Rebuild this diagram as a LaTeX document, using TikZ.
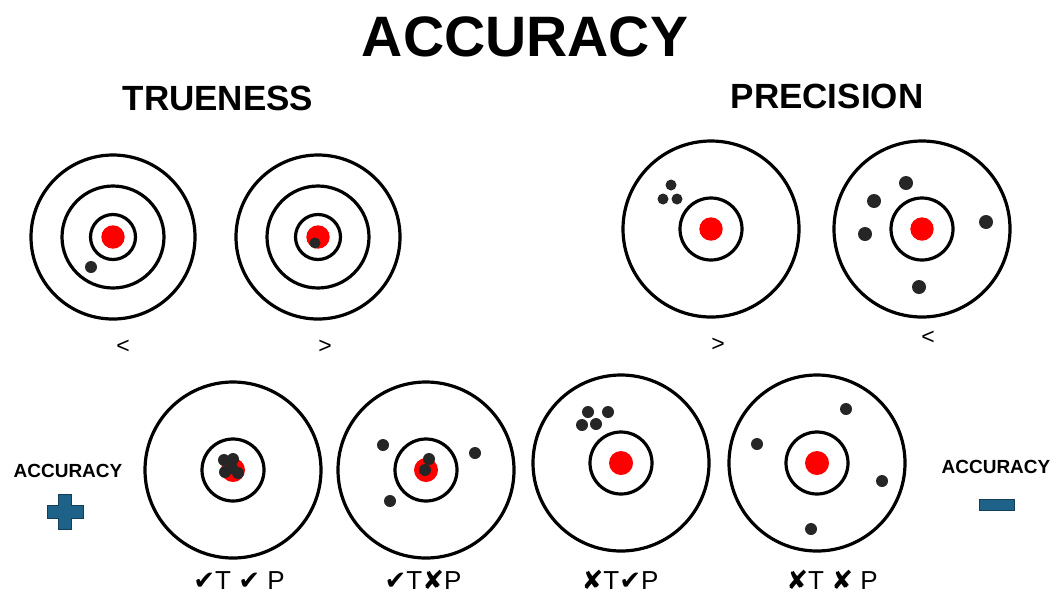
\documentclass[tikz,border=0pt]{standalone}
\usepackage{fontspec}
\setmainfont{Liberation Sans}
\newfontfamily\symfont{DejaVu Sans}
\definecolor{accblue}{RGB}{30,98,138}
\definecolor{accedge}{RGB}{20,62,88}
\newcommand{\accbig}{\fontsize{57}{60}\selectfont\bfseries}
\newcommand{\acchead}{\fontsize{35}{38}\selectfont\bfseries}
\newcommand{\accside}{\fontsize{19}{21}\selectfont\bfseries}
\newcommand{\acclabel}{\fontsize{26}{28}\selectfont}
\newcommand{\acccmp}{\fontsize{23}{25}\selectfont}
\newcommand{\chk}{{\symfont ✔}}
\newcommand{\crs}{{\symfont ✘}}
\begin{document}
\begin{tikzpicture}[x=1pt, y=-1pt,
    ring/.style={line width=3.2pt},
    bull/.style={fill=red},
    hit/.style={fill=black!85},
    txt/.style={inner sep=0pt}]
    \useasboundingbox (0,0) rectangle (1057,598);

    % ==========================================
    % Headings
    % ==========================================
    \node[txt, font=\accbig] (title) at (525,37) {ACCURACY};
    \node[txt, font=\acchead] (trueness) at (218,98) {TRUENESS};
    \node[txt, font=\acchead] (precision) at (827,96) {PRECISION};

    % ==========================================
    % Top left: trueness targets
    % ==========================================
    \coordinate (t1) at (113,237);
    \coordinate (t2) at (318,237);
    \foreach \c in {t1,t2}
        \foreach \r in {82,51,22.5}
            \draw[ring] (\c) circle[radius=\r];
    \fill[bull] (t1) circle[radius=11.7];
    \fill[bull] (t2) circle[radius=11.7];
    \fill[hit] (91,267) circle[radius=6];
    \fill[hit] (315,243) circle[radius=5.5];
    \node[txt, font=\acccmp] (lt1) at (123,347) {<};
    \node[txt, font=\acccmp] (gt1) at (325,347) {>};

    % ==========================================
    % Top right: precision targets
    % ==========================================
    \coordinate (p1) at (711,229);
    \coordinate (p2) at (922,229);
    \foreach \c in {p1,p2} {
        \draw[ring] (\c) circle[radius=88];
        \draw[ring] (\c) circle[radius=31];
        \fill[bull] (\c) circle[radius=11.7];
    }
    % Tight group off centre
    \foreach \p in {(671,185),(663,199),(677,199)}
        \fill[hit] \p circle[radius=5.5];
    % Spread out shots
    \foreach \p in {(906,183),(874,201),(865,234),(986,222),(919,287)}
        \fill[hit] \p circle[radius=7];
    \node[txt, font=\acccmp] (gt2) at (718,345) {>};
    \node[txt, font=\acccmp] (lt2) at (928,338) {<};

    % ==========================================
    % Bottom row: the four combinations
    % ==========================================
    \coordinate (b1) at (233,470);
    \coordinate (b2) at (426,470);
    \coordinate (b3) at (621,463);
    \coordinate (b4) at (817,463);
    \foreach \c in {b1,b2,b3,b4} {
        \draw[ring] (\c) circle[radius=88];
        \draw[ring] (\c) circle[radius=31];
        \fill[bull] (\c) circle[radius=12];
    }
    % True and precise
    \foreach \p in {(224,460),(233,459),(232,468),(225,472),(238,473)}
        \fill[hit] \p circle[radius=6];
    % True, not precise
    \foreach \p in {(383,445),(475,453),(390,501),(429,459),(425,470)}
        \fill[hit] \p circle[radius=6];
    % Precise, not true
    \foreach \p in {(588,412),(608,412),(582,425),(596,424)}
        \fill[hit] \p circle[radius=6];
    % Neither
    \foreach \p in {(846,409),(757,444),(882,481),(811,529)}
        \fill[hit] \p circle[radius=6];

    \node[txt, font=\acclabel, anchor=base] (lab1) at (239,589) {\chk T \chk{} P};
    \node[txt, font=\acclabel, anchor=base] (lab2) at (423,589) {\chk T\crs P};
    \node[txt, font=\acclabel, anchor=base] (lab3) at (620,589) {\crs T\chk P};
    \node[txt, font=\acclabel, anchor=base] (lab4) at (832,589) {\crs T \crs{} P};

    % ==========================================
    % Side marks: more and less accuracy
    % ==========================================
    \node[txt, font=\accside] (more) at (68,471) {ACCURACY};
    \node[txt, font=\accside] (less) at (996,467) {ACCURACY};
    \filldraw[fill=accblue, draw=accedge, line width=0.8pt]
        (58.5,494) -- ++(13,0) -- ++(0,11) -- ++(11.5,0) -- ++(0,13)
        -- ++(-11.5,0) -- ++(0,11) -- ++(-13,0) -- ++(0,-11) -- ++(-11.5,0)
        -- ++(0,-13) -- ++(11.5,0) -- cycle;
    \filldraw[fill=accblue, draw=accedge, line width=0.8pt]
        (979,499) rectangle (1014,510);
\end{tikzpicture}
\end{document}
